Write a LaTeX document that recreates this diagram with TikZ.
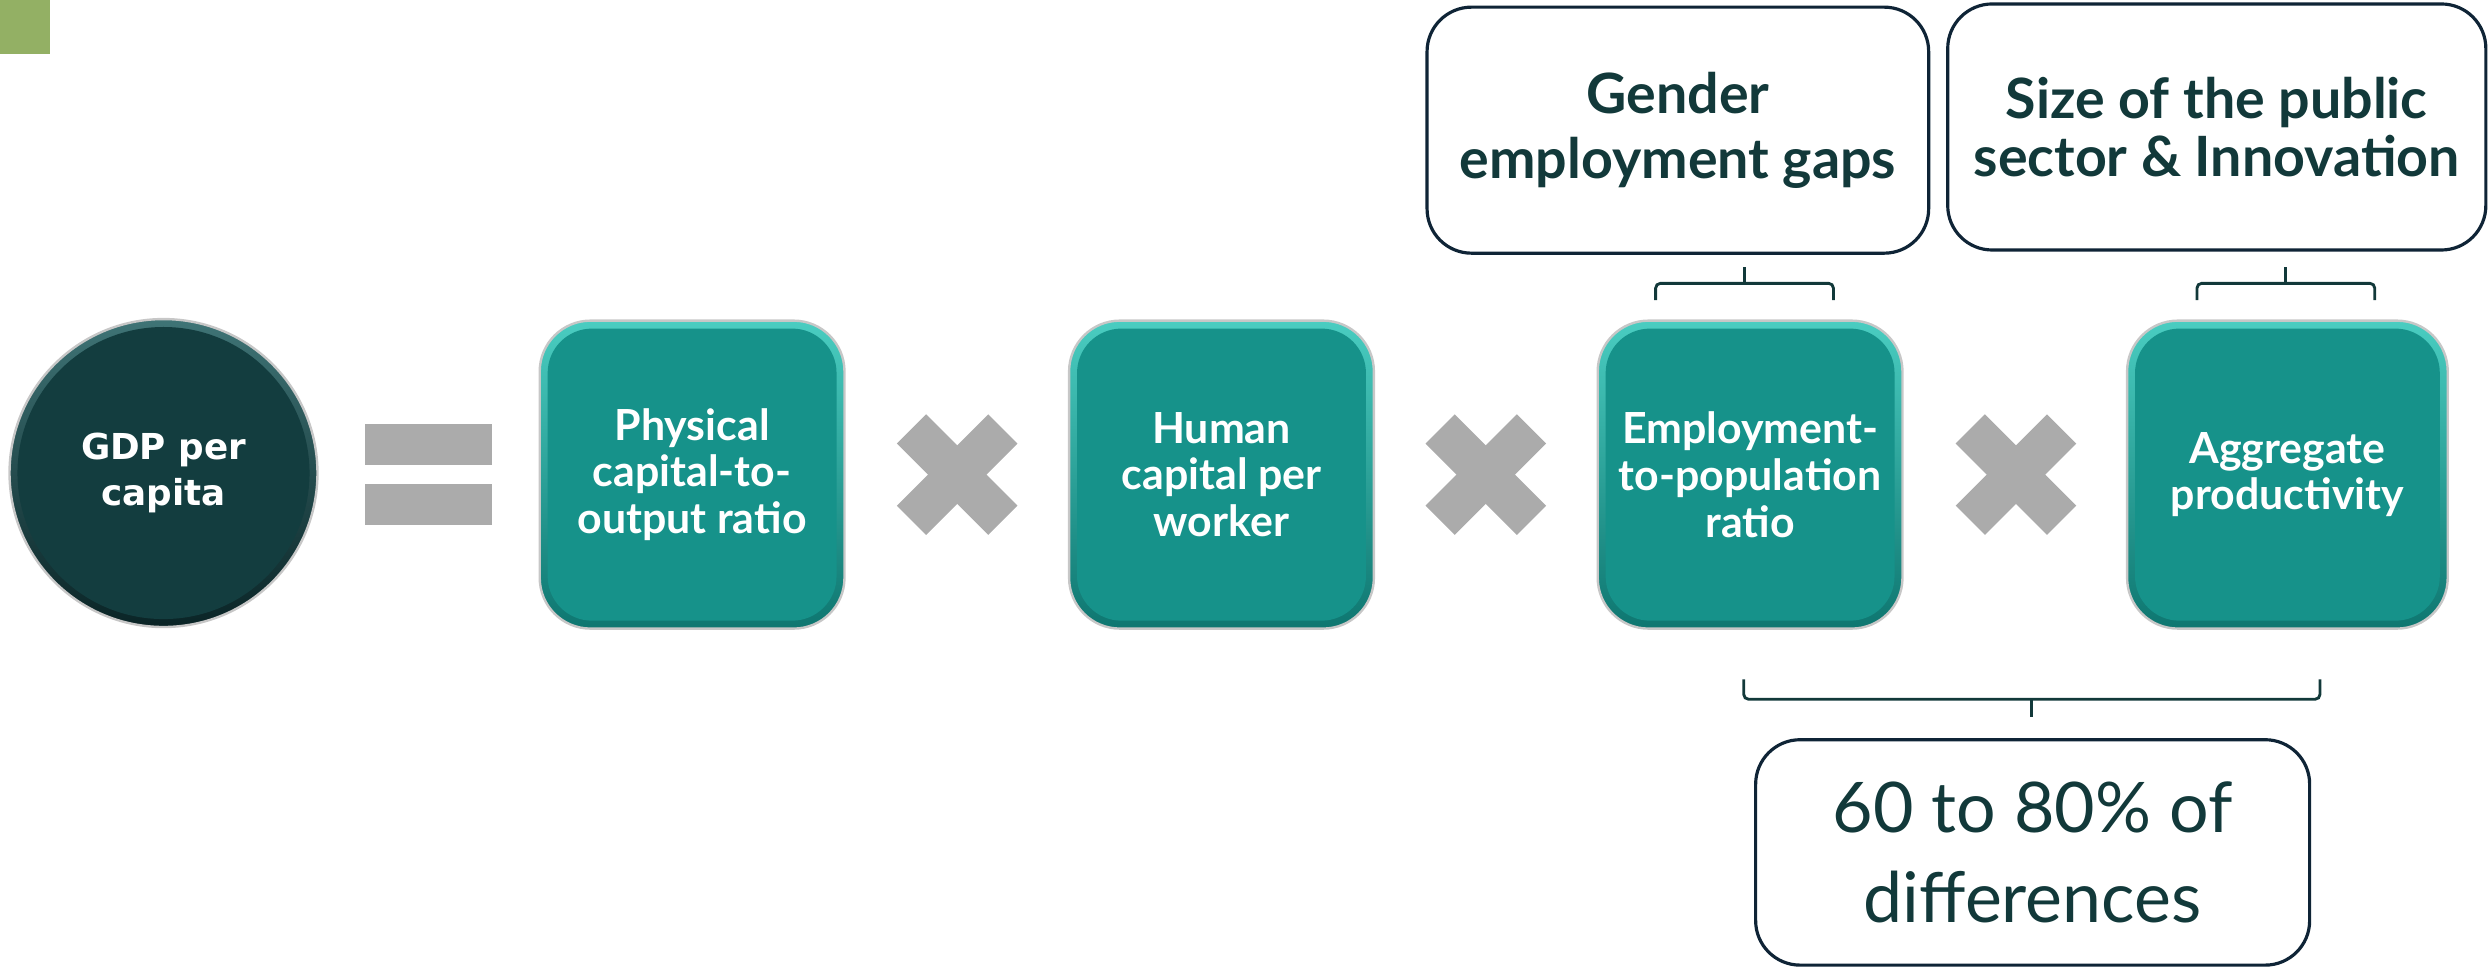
\documentclass[tikz,border=0pt]{standalone}
\usepackage{fontspec}
\setmainfont{Lato}
\newfontfamily\ballfont{DejaVu Sans}
\usetikzlibrary{calc}

\definecolor{tealbox}{HTML}{16928A}
\definecolor{tealhi}{HTML}{4ACDC1}
\definecolor{tealdark}{HTML}{0E7670}
\definecolor{gdpfill}{HTML}{133D3F}
\definecolor{gdphi}{HTML}{3F7476}
\definecolor{gdplo}{HTML}{0A2426}
\definecolor{xgray}{HTML}{ABABAB}
\definecolor{inktext}{HTML}{12393A}
\definecolor{framenavy}{HTML}{0F2436}
\definecolor{oliveblock}{HTML}{93B064}

\begin{document}
\begin{tikzpicture}[x=1pt,y=-1pt,
  factor/.style={rectangle, rounded corners=32pt, minimum width=192pt, minimum height=194pt,
    inner sep=0pt, top color=tealhi, bottom color=tealdark, draw=black!22, line width=1.5pt,
    path picture={\fill[tealbox, rounded corners=28pt]
      ($(path picture bounding box.south west)+(5pt,5pt)$) rectangle
      ($(path picture bounding box.north east)+(-5pt,-5pt)$);},
    text=white, align=center, font=\bfseries\fontsize{27}{29.5}\selectfont},
  gdpball/.style={circle, minimum size=194pt, inner sep=0pt, top color=gdphi, bottom color=gdplo,
    draw=black!22, line width=1.5pt,
    path picture={\fill[gdpfill] (path picture bounding box.center) circle (92pt);},
    text=white, align=center, font=\ballfont\bfseries\fontsize{22.5}{29}\selectfont},
  note/.style={rectangle, rounded corners=28pt, draw=framenavy, line width=2pt, fill=white,
    inner sep=0pt, text=inktext, align=center},
  eqbar/.style={rectangle, fill=xgray, minimum width=80pt, minimum height=26pt, inner sep=0pt},
  brace/.style={draw=inktext, line width=1.8pt, rounded corners=3pt},
  timesmark/.pic={
    \fill[xgray, rotate=45] (-40.7,-13) rectangle (40.7,13);
    \fill[xgray, rotate=-45] (-40.7,-13) rectangle (40.7,13);
  }]
\useasboundingbox (0,0) rectangle (1568,609);

% corner tab
\node[fill=oliveblock, minimum width=31pt, minimum height=34pt, inner sep=0pt, anchor=north west] (tab) at (0,0) {};

% left-hand side of the identity
\node[gdpball] (gdp) at (103,298) {GDP per\\capita};
\node[eqbar] (eqtop) at (270,280) {};
\node[eqbar] (eqbot) at (270,318) {};

% the four factors
\node[factor] (phys) at (436,299) {Physical\\capital-to-\\output ratio};
\node[factor] (human) at (769.5,299) {Human\\capital per\\worker};
\node[factor] (emp) at (1102.5,299) {Employment-\\to-population\\ratio};
\node[factor, minimum width=202pt] (prod) at (1441,299) {Aggregate\\productivity};

\pic (m1) at (603,299) {timesmark};
\pic (m2) at (936,299) {timesmark};
\pic (m3) at (1270,299) {timesmark};

% drivers above
\node[note, minimum width=316pt, minimum height=155pt,
  font=\bfseries\fontsize{35}{41}\selectfont] (gender) at (1057,82) {Gender\\employment gaps};
\node[note, minimum width=339pt, minimum height=155pt,
  font=\bfseries\fontsize{35}{37}\selectfont] (public) at (1396.5,80) {Size of the public\\sector \& Innovation};

% share of differences below
\node[note, minimum width=349pt, minimum height=142pt,
  font=\fontsize{44}{56.5}\selectfont] (share) at (1280.5,537) {60 to 80\% of\\differences};

% braces
\coordinate (b1c) at (1099,178.5);
\coordinate (b2c) at (1440,178.5);
\coordinate (b3c) at (1280,440.5);
\draw[brace] ($(b1c)+(-56,10.5)$) -- ($(b1c)+(-56,0)$) -- ($(b1c)+(56,0)$) -- ($(b1c)+(56,10.5)$);
\draw[brace, rounded corners=0pt] (b1c) -- ($(b1c)+(0,-10.5)$);
\draw[brace] ($(b2c)+(-56,10.5)$) -- ($(b2c)+(-56,0)$) -- ($(b2c)+(56,0)$) -- ($(b2c)+(56,10.5)$);
\draw[brace, rounded corners=0pt] (b2c) -- ($(b2c)+(0,-10.5)$);
\draw[brace] ($(b3c)+(-181.5,-12.5)$) -- ($(b3c)+(-181.5,0)$) -- ($(b3c)+(181.5,0)$) -- ($(b3c)+(181.5,-12.5)$);
\draw[brace, rounded corners=0pt] (b3c) -- ($(b3c)+(0,11.5)$);
\end{tikzpicture}
\end{document}
